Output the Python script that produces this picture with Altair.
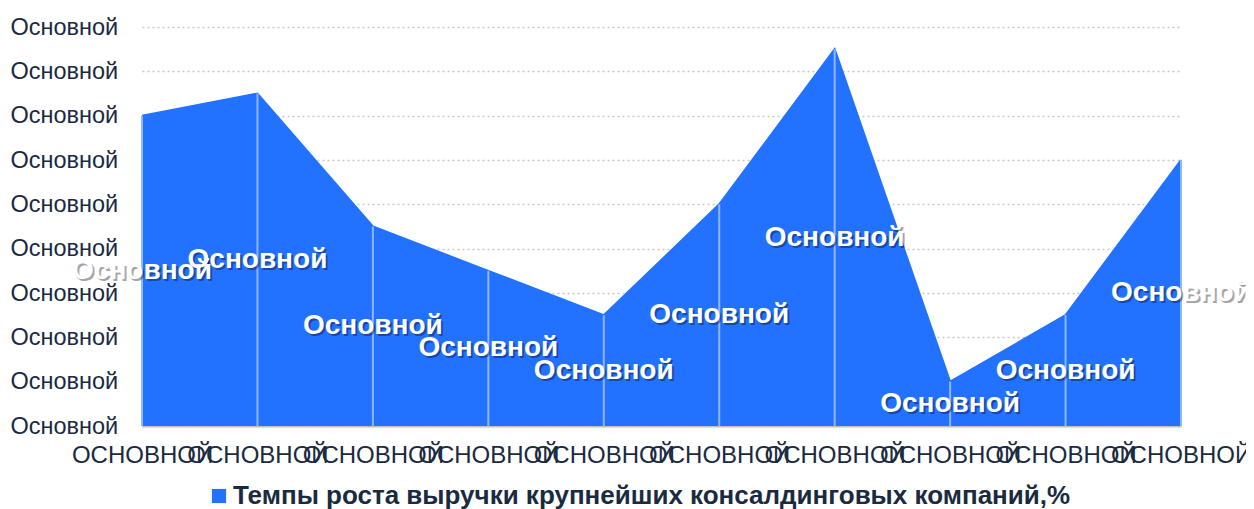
import altair as alt
import pandas as pd

categories = ["ОСНОВНОЙ"] * 10
values = [7, 7.5, 4.5, 3.5, 2.5, 5, 8.5, 1, 2.5, 6]
data_labels = ["Основной"] * 10
y_tick_labels = ["Основной"] * 10
y_tick_values = [0, 1, 2, 3, 4, 5, 6, 7, 8, 9]
series_name = "Темпы роста выручки крупнейших консалдинговых компаний,%"

df = pd.DataFrame({
    "idx": list(range(len(values))),
    "cat": categories,
    "value": values,
    "label": data_labels,
    "series": [series_name] * len(values),
})

FILL = "#2272FF"
EDGE = "#AFCBFF"
TEXT = "#1a2a3f"
FONT = "Liberation Sans"

x_label_expr = "[" + ",".join('"%s"' % c for c in categories) + "][datum.value]"
y_label_expr = "[" + ",".join('"%s"' % c for c in y_tick_labels) + "][datum.value]"

x_enc = alt.X(
    "idx:Q",
    scale=alt.Scale(domain=[0, len(values) - 1], nice=False, zero=False),
    axis=alt.Axis(
        values=list(range(len(values))),
        labelExpr=x_label_expr,
        title=None,
        grid=False,
        ticks=False,
        domain=True,
        domainColor="#c0c0c0",
        domainWidth=2,
        labelFont=FONT,
        labelFontSize=24,
        labelColor=TEXT,
        labelPadding=17,
        labelOverlap=False,
        labelFlush=False,
        labelBound=False,
    ),
)

y_enc = alt.Y(
    "value:Q",
    scale=alt.Scale(domain=[0, 9], nice=False),
    axis=alt.Axis(
        values=y_tick_values,
        labelExpr=y_label_expr,
        title=None,
        grid=True,
        gridColor="#c8c8c8",
        gridDash=[2, 3],
        gridWidth=1.5,
        ticks=False,
        domain=False,
        labelFont=FONT,
        labelFontSize=23.5,
        labelColor=TEXT,
        labelAlign="left",
        labelPadding=132,
        labelOverlap=False,
        labelFlush=False,
        labelBound=False,
    ),
)

base = alt.Chart(df)

area = base.mark_area(opacity=1, line={"color": EDGE, "strokeWidth": 2}).encode(
    x=x_enc,
    y=y_enc,
    color=alt.Color(
        "series:N",
        scale=alt.Scale(range=[FILL]),
        legend=alt.Legend(
            title=None,
            orient="none",
            legendX=64,
            legendY=456,
            symbolType="square",
            symbolSize=200,
            symbolStrokeWidth=0,
            labelFont=FONT,
            labelFontSize=26,
            labelFontWeight="bold",
            labelColor=TEXT,
            labelOffset=1,
            labelLimit=1200,
        ),
    ),
)

rules = base.mark_rule(color="#8FB6FF", strokeWidth=2).encode(
    x="idx:Q", y="value:Q", y2=alt.datum(0)
)

labels_base = base.transform_calculate(mid="datum.value / 2")

shadow = labels_base.mark_text(
    font=FONT, fontSize=28, fontWeight="bold", color="#000000", opacity=0.35, dx=2, dy=2
).encode(x="idx:Q", y="mid:Q", text="label:N")

labels = labels_base.mark_text(
    font=FONT, fontSize=28, fontWeight="bold", color="#ffffff"
).encode(x="idx:Q", y="mid:Q", text="label:N")

chart = (
    alt.layer(area, rules, shadow, labels)
    .properties(
        width=1039,
        height=399,
        autosize=alt.AutoSizeParams(type="none"),
        padding={"left": 134, "top": 19, "right": 65, "bottom": 83},
    )
    .configure_view(stroke=None)
)

chart.save("out.html", embed_options={"renderer": "svg", "actions": False})
